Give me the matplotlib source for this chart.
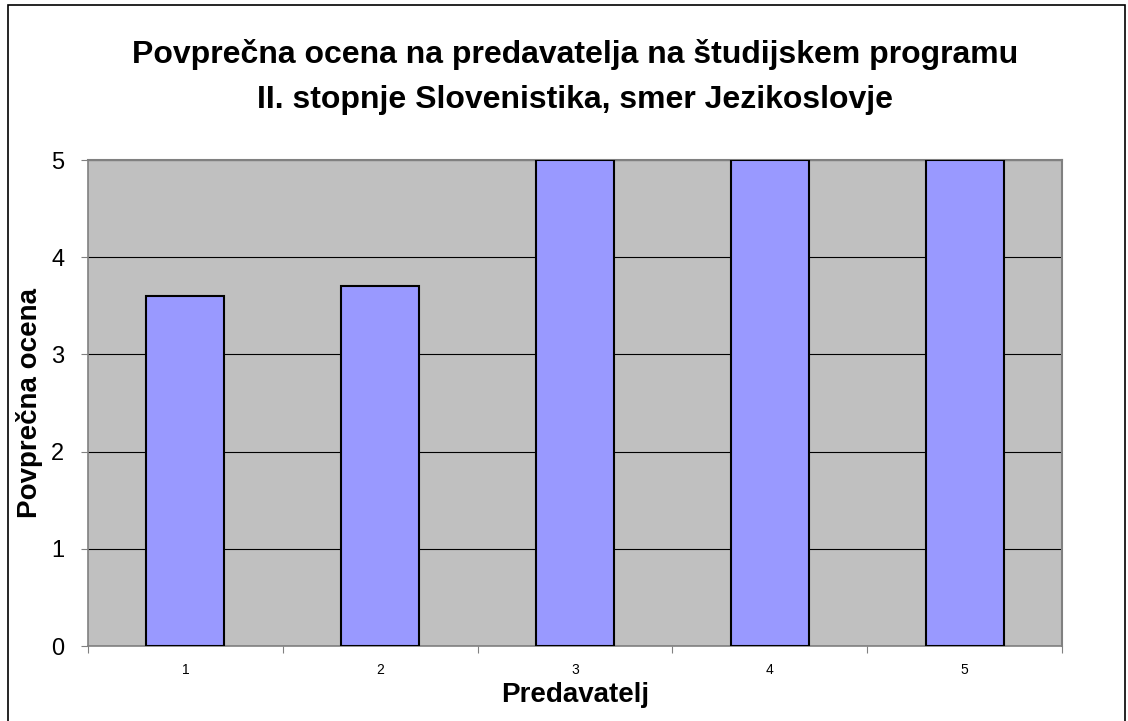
import numpy as np
import matplotlib
matplotlib.use('Agg')
import matplotlib.pyplot as plt
from matplotlib.patches import Rectangle

plt.rcParams['font.family'] = ['Liberation Sans', 'DejaVu Sans']

# podatki
predavatelji = ['1', '2', '3', '4', '5']
ocene = [3.6, 3.7, 5.0, 5.0, 5.0]
y_ticks = [0, 1, 2, 3, 4, 5]

fig = plt.figure(figsize=(11.28, 7.21), dpi=100)
ax = fig.add_axes([0.078, 0.104, 0.8635, 0.674])

# okvir okoli slike
fig.patches.append(Rectangle((0.007, -0.01), 0.99, 1.003, transform=fig.transFigure,
                             fill=False, edgecolor='black', linewidth=1.2))

x = np.arange(len(predavatelji))
ax.set_facecolor('#C0C0C0')
ax.bar(x, ocene, width=0.4, color='#9999FF', edgecolor='black', linewidth=1.5, zorder=3)

ax.set_xlim(-0.5, len(predavatelji) - 0.5)
ax.set_ylim(0, 5)
ax.set_yticks(y_ticks)
ax.set_yticklabels([str(t) for t in y_ticks], fontsize=17)
ax.yaxis.grid(True, color='black', linewidth=0.8, zorder=1)

# oznake kategorij med stolpci, kljukice na mejah
ax.set_xticks(np.arange(-0.5, len(predavatelji), 1.0))
ax.set_xticklabels([])
ax.set_xticks(x, minor=True)
ax.set_xticklabels(predavatelji, minor=True, fontsize=10)
ax.tick_params(axis='x', which='minor', length=0, pad=12)
ax.tick_params(axis='x', which='major', length=5, color='#808080', direction='out')
ax.tick_params(axis='y', length=5, color='#808080', pad=12)

for s in ['top', 'right']:
    ax.spines[s].set_color('#808080')
    ax.spines[s].set_linewidth(1.5)
ax.spines['left'].set_color('#808080')
ax.spines['bottom'].set_color('#808080')
ax.spines['left'].set_linewidth(1.2)
ax.spines['bottom'].set_linewidth(1.2)

ax.set_xlabel('Predavatelj', fontsize=20, fontweight='bold', labelpad=4)
ax.set_ylabel('Povprečna ocena', fontsize=20, fontweight='bold', labelpad=6)

fig.text(0.51, 0.925, 'Povprečna ocena na predavatelja na študijskem programu',
         ha='center', va='center', fontsize=23, fontweight='bold')
fig.text(0.51, 0.861, 'II. stopnje Slovenistika, smer Jezikoslovje',
         ha='center', va='center', fontsize=23, fontweight='bold')

fig.savefig('out.png', dpi=100)
